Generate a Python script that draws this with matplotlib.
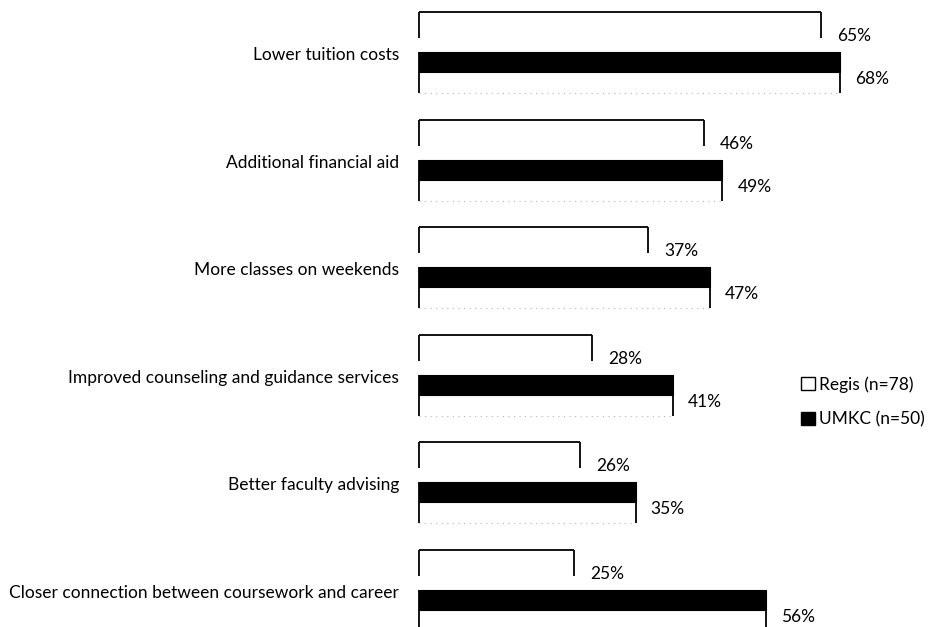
import matplotlib
matplotlib.use("Agg")
import matplotlib.pyplot as plt
from matplotlib.patches import Patch
import numpy as np

categories = ["Lower tuition costs", "Additional financial aid", "More classes on weekends",
              "Improved counseling and guidance services", "Better faculty advising",
              "Closer connection between coursework and career"]
regis = [65, 46, 37, 28, 26, 25]
umkc = [68, 49, 47, 41, 35, 56]
series_labels = ["Regis (n=78)", "UMKC (n=50)"]

plt.rcParams['font.family'] = ['Lato', 'DejaVu Sans']

W, H = 942, 627
fig = plt.figure(figsize=(W / 100, H / 100), dpi=100)
ax = fig.add_axes([0, 0, 1, 1])
ax.axis('off')

PXU = 6.19    # pixels per percent
X0 = 419      # pixel of 0%
GP = 107.6    # pixels per group
C0 = 54       # pixel of first group center
ax.set_xlim(-X0 / PXU, (W - X0) / PXU)
ax.set_ylim((H - C0) / GP, -C0 / GP)

def u(px):
    return px / GP

y = np.arange(len(categories))
zeros = np.zeros(len(categories))
lw = 1.3

# Regis: white bars with open outline (top, left, right)
r_top = y - u(42)
r_bot = y - u(16)
ax.barh(r_top, regis, height=r_bot - r_top, align='edge', color='white', edgecolor='none', left=0)
ax.hlines(r_top, 0, regis, color='black', lw=lw)
ax.vlines(zeros, r_top, r_bot, color='black', lw=lw)
ax.vlines(regis, r_top, r_bot, color='black', lw=lw)

# UMKC: black top portion, outlined lower portion
k_top = y - u(2)
k_mid = y + u(18)
k_bot = y + u(39)
ax.barh(k_top, umkc, height=k_mid - k_top, align='edge', color='black', edgecolor='black', lw=0.8)
ax.vlines(zeros, k_top, k_bot, color='black', lw=lw)
ax.vlines(umkc, k_top, k_bot, color='black', lw=lw)
ax.hlines(k_bot, 0, umkc, color='#b5b5b5', lw=0.8, linestyles=(0, (1, 4)))

fs = 12.5
for i in range(len(categories)):
    ax.text(-20 / PXU, y[i] + u(1), categories[i], ha='right', va='center', fontsize=fs)
    ax.text(regis[i] + 16 / PXU, y[i] - u(18), f"{regis[i]}%", ha='left', va='center', fontsize=fs)
    ax.text(umkc[i] + 15 / PXU, y[i] + u(25), f"{umkc[i]}%", ha='left', va='center', fontsize=fs)

handles = [Patch(facecolor='white', edgecolor='black', lw=1.0),
           Patch(facecolor='black', edgecolor='black', lw=1.0)]
fig.legend(handles, series_labels, loc='upper left', bbox_to_anchor=(794 / W, 1 - 369 / H),
           frameon=False, fontsize=fs, handlelength=0.8, handleheight=0.8,
           handletextpad=0.25, labelspacing=1.1, borderaxespad=0)

fig.savefig("out.png", dpi=100)
